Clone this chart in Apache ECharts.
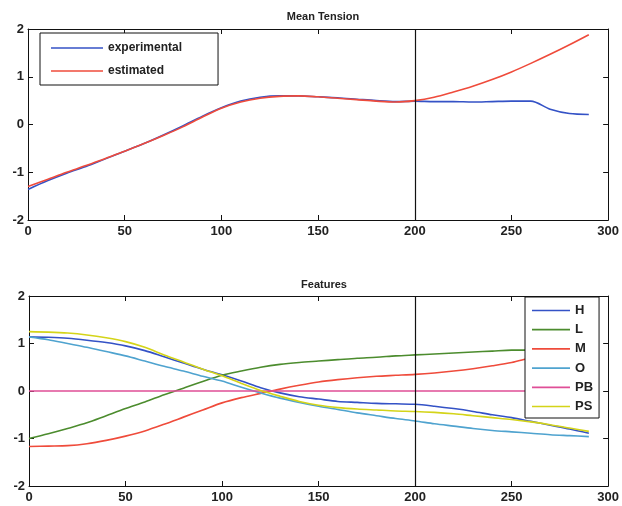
<!DOCTYPE html>
<html>
<head>
<meta charset="utf-8">
<script src="https://cdn.jsdelivr.net/npm/echarts@6/dist/echarts.min.js"></script>
<style>html,body{margin:0;padding:0;background:#fff;}#c{width:622px;height:506px;}</style>
</head>
<body>
<div id="c"></div>
<script>
// ---- Data ----
const xs = [0,10,20,30,40,50,60,70,80,90,100,110,120,130,140,150,160,170,180,190,200,210,220,230,240,250,260,270,280,290];

const experimental = [-1.36,-1.18,-1.02,-0.88,-0.72,-0.56,-0.40,-0.22,-0.03,0.17,0.35,0.49,0.57,0.60,0.60,0.58,0.56,0.53,0.50,0.48,0.49,0.48,0.48,0.47,0.48,0.49,0.49,0.32,0.23,0.21];
const estimated = [-1.30,-1.15,-1.00,-0.86,-0.71,-0.56,-0.40,-0.23,-0.05,0.15,0.34,0.47,0.55,0.59,0.60,0.58,0.55,0.52,0.49,0.47,0.50,0.57,0.68,0.80,0.94,1.10,1.28,1.47,1.67,1.88];

const featH = [1.14,1.13,1.11,1.07,1.02,0.95,0.85,0.72,0.59,0.46,0.34,0.21,0.07,-0.04,-0.12,-0.17,-0.22,-0.24,-0.26,-0.27,-0.28,-0.32,-0.37,-0.43,-0.50,-0.56,-0.64,-0.72,-0.80,-0.89];
const featL = [-1.00,-0.90,-0.79,-0.67,-0.52,-0.37,-0.23,-0.08,0.06,0.20,0.33,0.42,0.50,0.56,0.60,0.63,0.66,0.69,0.71,0.74,0.76,0.78,0.80,0.82,0.84,0.86,0.86,0.87,0.88,0.89];
const featM = [-1.17,-1.16,-1.15,-1.11,-1.04,-0.95,-0.84,-0.70,-0.55,-0.40,-0.25,-0.14,-0.05,0.04,0.12,0.19,0.24,0.28,0.31,0.33,0.35,0.38,0.42,0.47,0.53,0.60,0.70,0.78,0.86,0.93];
const featO = [1.14,1.08,1.00,0.92,0.83,0.74,0.63,0.52,0.42,0.31,0.21,0.08,-0.04,-0.15,-0.24,-0.32,-0.39,-0.46,-0.52,-0.58,-0.63,-0.69,-0.74,-0.79,-0.83,-0.86,-0.89,-0.92,-0.94,-0.96];
const featPB = [0,0,0,0,0,0,0,0,0,0,0,0,0,0,0,0,0,0,0,0,0,0,0,0,0,0,0,0,0,0];
const featPS = [1.25,1.24,1.22,1.18,1.12,1.04,0.92,0.76,0.61,0.46,0.32,0.16,0.01,-0.11,-0.22,-0.30,-0.35,-0.38,-0.40,-0.42,-0.43,-0.45,-0.48,-0.52,-0.56,-0.60,-0.65,-0.71,-0.78,-0.85];

const xTicks = {min: 0, max: 300, interval: 50};
const yTicks = {min: -2, max: 2, interval: 1};
const markX = 200;

const titles = ['Mean Tension', 'Features'];
const topNames = ['experimental', 'estimated'];
const featNames = ['H', 'L', 'M', 'O', 'PB', 'PS'];
const featColors = ['#3452c6', '#4c8c2e', '#ef4b3b', '#4fa3cf', '#df4f97', '#d4d419'];
const topColors = ['#3452c6', '#ef4b3b'];

// ---- Chart ----
const pair = a => xs.map((x, i) => [x, a[i]]);
const labelFont = {fontFamily: 'Liberation Sans, Arial, sans-serif', fontSize: 13, fontWeight: 'bold', color: '#222'};

function xAxes(g) {
  return [
    {gridIndex: g, type: 'value', position: 'bottom', ...xTicks,
     axisLine: {show: true, onZero: false, lineStyle: {color: '#111', width: 1}},
     axisTick: {show: true, inside: true, length: 5, lineStyle: {color: '#111'}},
     axisLabel: {show: true, margin: 5, ...labelFont},
     splitLine: {show: false}},
    {gridIndex: g, type: 'value', position: 'top', ...xTicks,
     axisLine: {show: true, onZero: false, lineStyle: {color: '#111', width: 1}},
     axisTick: {show: true, inside: true, length: 5, lineStyle: {color: '#111'}},
     axisLabel: {show: false}, splitLine: {show: false}}
  ];
}
function yAxes(g) {
  return [
    {gridIndex: g, type: 'value', position: 'left', ...yTicks,
     axisLine: {show: true, onZero: false, lineStyle: {color: '#111', width: 1}},
     axisTick: {show: true, inside: true, length: 5, lineStyle: {color: '#111'}},
     axisLabel: {show: true, margin: 4, ...labelFont},
     splitLine: {show: false}},
    {gridIndex: g, type: 'value', position: 'right', ...yTicks,
     axisLine: {show: true, onZero: false, lineStyle: {color: '#111', width: 1}},
     axisTick: {show: true, inside: true, length: 5, lineStyle: {color: '#111'}},
     axisLabel: {show: false}, splitLine: {show: false}}
  ];
}

const vline = {
  silent: true, symbol: ['none', 'none'], label: {show: false},
  lineStyle: {color: '#111', width: 1.2, type: 'solid'},
  data: [{xAxis: markX}]
};

function lineSeries(name, data, color, xi, yi, withMark) {
  const s = {
    name, type: 'line', xAxisIndex: xi, yAxisIndex: yi, data: pair(data),
    smooth: 0.3, symbol: 'none', showSymbol: false,
    lineStyle: {color, width: 1.6}, itemStyle: {color},
    animation: false
  };
  if (withMark) s.markLine = vline;
  return s;
}

const series = [
  lineSeries(topNames[0], experimental, topColors[0], 0, 0, true),
  lineSeries(topNames[1], estimated, topColors[1], 0, 0, false)
];
const featData = [featH, featL, featM, featO, featPB, featPS];
featNames.forEach((n, i) => series.push(lineSeries(n, featData[i], featColors[i], 2, 2, i === 0)));

const legendText = {fontFamily: 'Liberation Sans, Arial, sans-serif', fontSize: 12, fontWeight: 'bold', color: '#222'};
const lineIconTop = 'path://M0,0H100V3.2H0Z';
const lineIconBottom = 'path://M0,0H100V4.6H0Z';

const option = {
  backgroundColor: '#fff',
  animation: false,
  title: [
    {text: titles[0], left: 318, top: 6, textAlign: 'center',
     textStyle: {fontFamily: 'Liberation Sans, Arial, sans-serif', fontSize: 11, fontWeight: 'bold', color: '#222'}},
    {text: titles[1], left: 319, top: 274, textAlign: 'center',
     textStyle: {fontFamily: 'Liberation Sans, Arial, sans-serif', fontSize: 11, fontWeight: 'bold', color: '#222'}}
  ],
  grid: [
    {left: 28, right: 13, top: 29, height: 191},
    {left: 29, right: 12, top: 296, height: 190}
  ],
  xAxis: [...xAxes(0), ...xAxes(1)],
  yAxis: [...yAxes(0), ...yAxes(1)],
  legend: [
    {data: topNames, orient: 'vertical', left: 40, top: 33, icon: lineIconTop,
     padding: [9, 36, 8, 11], itemWidth: 52, itemHeight: 14, itemGap: 11,
     backgroundColor: '#fff', borderColor: '#111', borderWidth: 1, z: 20,
     textStyle: legendText, selectedMode: false},
    {data: featNames, orient: 'vertical', left: 525, top: 297, icon: lineIconBottom,
     padding: [7, 6, 5, 7], itemWidth: 38, itemHeight: 10, itemGap: 6.2,
     backgroundColor: '#fff', borderColor: '#111', borderWidth: 1, z: 20,
     textStyle: Object.assign({}, legendText, {fontSize: 13}), selectedMode: false}
  ],
  series
};

const chart = echarts.init(document.getElementById('c'), null, {renderer: 'canvas'});
chart.setOption(option);
</script>
</body>
</html>
